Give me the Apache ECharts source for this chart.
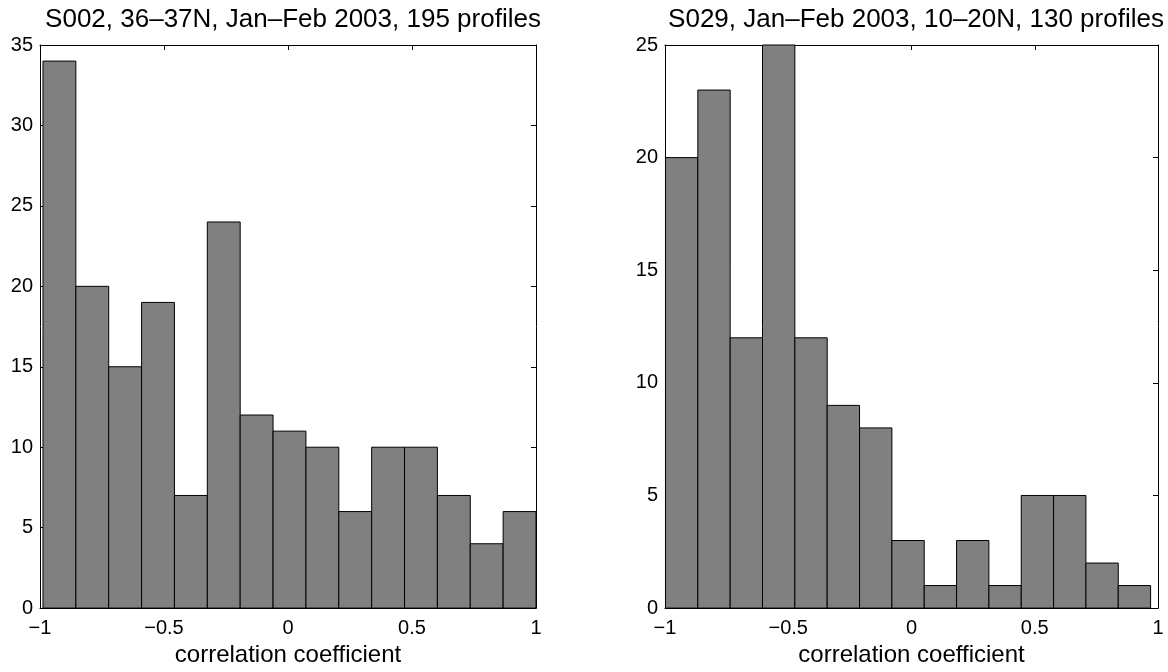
<!DOCTYPE html>
<html lang="en">
<head>
    <meta charset="UTF-8">
    <title>correlation coefficient histograms</title>
    <script src="https://cdn.jsdelivr.net/npm/echarts@6/dist/echarts.min.js"></script>
    <style>
        html, body {
            margin: 0;
            padding: 0;
            background: #fff;
        }

        #chart {
            width: 1168px;
            height: 672px;
        }
    </style>
</head>
<body>
<div id="chart"></div>
<script type="text/javascript">
    // histogram counts
    var leftTitle = 'S002, 36\u201337N, Jan\u2013Feb 2003, 195 profiles';
    var leftCounts = [34, 20, 15, 19, 7, 24, 12, 11, 10, 6, 10, 10, 7, 4, 6];
    var leftRange = [-0.988, 1.0];   // data min / max (hist bins span this)

    var rightTitle = 'S029, Jan\u2013Feb 2003, 10\u201320N, 130 profiles';
    var rightCounts = [20, 23, 12, 25, 12, 9, 8, 3, 1, 3, 1, 5, 5, 2, 1];
    var rightRange = [-0.998, 0.970];

    var xTicks = [-1, -0.5, 0, 0.5, 1];
    var leftYMax = 35;
    var rightYMax = 25;

    // bin edges like matlab hist: equal bins between min and max
    function toBins(counts, range) {
        var n = counts.length;
        var w = (range[1] - range[0]) / n;
        var out = [];
        for (var i = 0; i < n; i++) {
            out.push([range[0] + i * w, range[0] + (i + 1) * w, counts[i]]);
        }
        return out;
    }

    var font = '"Liberation Sans", Arial, Helvetica, sans-serif';

    function renderBar(params, api) {
        var p0 = api.coord([api.value(0), 0]);
        var p1 = api.coord([api.value(1), api.value(2)]);
        return {
            type: 'rect',
            shape: {x: p0[0], y: p1[1], width: p1[0] - p0[0], height: p0[1] - p1[1]},
            style: {fill: '#808080', stroke: '#000', lineWidth: 1}
        };
    }

    function xAxisPair(gridIndex) {
        var line = {show: true, onZero: false, lineStyle: {color: '#000', width: 1}};
        var tick = {show: true, inside: true, length: 5, lineStyle: {color: '#000'}};
        return [{
            type: 'value', gridIndex: gridIndex, position: 'bottom',
            min: -1, max: 1, interval: 0.5,
            axisLine: line, axisTick: tick, splitLine: {show: false},
            axisLabel: {
                color: '#000', fontSize: 20, fontFamily: font, margin: 10,
                formatter: function (v) {
                    return xTicks.indexOf(v) < 0 ? '' : String(v).replace('-', '\u2212');
                }
            },
            name: 'correlation coefficient', nameLocation: 'middle', nameGap: 34,
            nameTextStyle: {color: '#000', fontSize: 24, fontFamily: font}
        }, {
            type: 'value', gridIndex: gridIndex, position: 'top',
            min: -1, max: 1, interval: 0.5,
            axisLine: line, axisTick: tick, splitLine: {show: false},
            axisLabel: {show: false}
        }];
    }

    function yAxisPair(gridIndex, yMax) {
        var line = {show: true, onZero: false, lineStyle: {color: '#000', width: 1}};
        var tick = {show: true, inside: true, length: 5, lineStyle: {color: '#000'}};
        return [{
            type: 'value', gridIndex: gridIndex, position: 'left',
            min: 0, max: yMax, interval: 5,
            axisLine: line, axisTick: tick, splitLine: {show: false},
            axisLabel: {color: '#000', fontSize: 20, fontFamily: font, margin: 7}
        }, {
            type: 'value', gridIndex: gridIndex, position: 'right',
            min: 0, max: yMax, interval: 5,
            axisLine: line, axisTick: tick, splitLine: {show: false},
            axisLabel: {show: false}
        }];
    }

    var myChart = echarts.init(document.getElementById('chart'));

    var option = {
        animation: false,
        backgroundColor: '#fff',
        title: [{
            text: leftTitle, left: 288, top: 2, textAlign: 'center',
            textStyle: {color: '#000', fontSize: 26, fontWeight: 'normal', fontFamily: font}
        }, {
            text: rightTitle, left: 911, top: 2, textAlign: 'center',
            textStyle: {color: '#000', fontSize: 26, fontWeight: 'normal', fontFamily: font}
        }],
        grid: [
            {left: 40, right: 632, top: 45, bottom: 63},
            {left: 665, right: 10, top: 45, bottom: 63}
        ],
        xAxis: xAxisPair(0).concat(xAxisPair(1)),
        yAxis: yAxisPair(0, leftYMax).concat(yAxisPair(1, rightYMax)),
        series: [{
            type: 'custom',
            xAxisIndex: 0, yAxisIndex: 0,
            renderItem: renderBar,
            encode: {x: [0, 1], y: 2},
            data: toBins(leftCounts, leftRange)
        }, {
            type: 'custom',
            xAxisIndex: 2, yAxisIndex: 2,
            renderItem: renderBar,
            encode: {x: [0, 1], y: 2},
            data: toBins(rightCounts, rightRange)
        }]
    };
    myChart.setOption(option);
</script>
</body>
</html>
